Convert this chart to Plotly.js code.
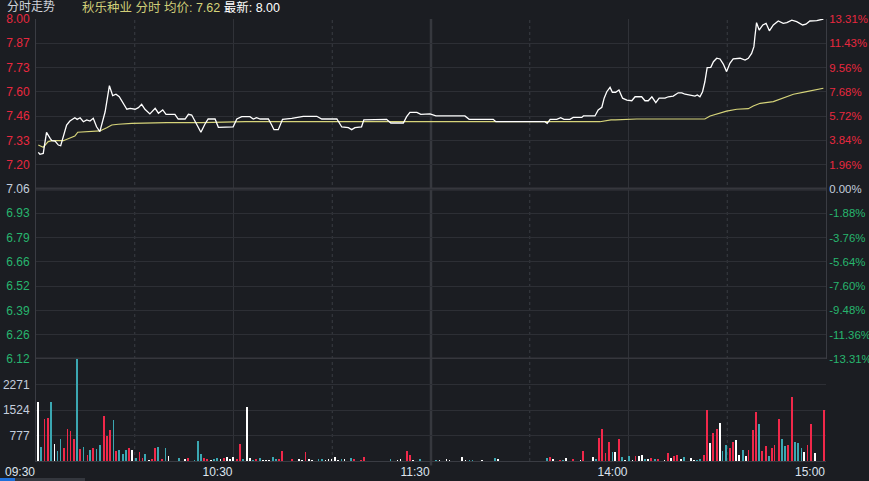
<!DOCTYPE html>
<html><head><meta charset="utf-8">
<script src="https://cdn.plot.ly/plotly-3.0.1.min.js"></script>
<style>html,body{margin:0;padding:0;background:#1b1d22;}#chart{width:869px;height:481px;}</style>
</head><body><div id="chart"></div>
<script>
// ---- data (minutes after 09:30, trading time; 11:30 and 13:00 join at 120) ----
const stockName = '秋乐种业';
const latestAvg = '7.62';
const latestPrice = '8.00';

const priceTime = [0.7,1.2,2.2,3.2,4.3,4.8,5.8,6.8,7.5,8.3,
  9.3,10.3,11.8,12.5,13.4,14.4,15.4,16.4,17.4,18.4,
  19.4,21.0,21.7,22.3,23.3,24.3,25.3,26.5,27.6,28.6,
  30.1,31.1,32.1,33.1,34.6,36.2,37.2,38.5,39.5,42.2,
  43.2,45.3,46.3,47.3,48.8,50.1,51.3,52.3,54.4,55.4,
  59.9,61.0,62.5,65.0,66.0,67.0,68.1,70.6,71.6,72.3,
  73.6,74.3,74.9,77.7,81.2,85.3,86.8,91.4,92.9,94.9,
  95.9,96.9,98.9,99.6,106.5,107.8,111.6,112.6,113.6,115.7,
  116.9,119.7,121.5,130.3,131.6,138.9,139.7,154.6,155.3,156.2,
  158.2,159.4,160.4,162.2,163.2,165.8,166.3,169.8,170.8,171.9,
  172.6,173.4,174.4,175.1,176.1,177.1,178.2,179.5,181.0,182.0,
  184.0,185.0,186.0,187.1,188.3,189.3,191.1,192.1,193.6,195.1,
  196.2,197.2,199.2,200.2,200.9,201.7,202.5,203.2,203.9,205.0,
  205.8,206.8,207.8,208.8,209.8,210.8,211.8,213.9,215.4,216.4,
  217.4,218.1,218.4,218.9,219.7,220.8,221.8,222.8,224.0,225.5,
  227.0,228.1,229.6,231.1,232.9,233.9,235.1,237.2,239.2];
const priceValue = [7.263,7.252,7.257,7.373,7.340,7.327,7.325,7.303,7.299,7.349,
  7.414,7.436,7.454,7.445,7.454,7.432,7.442,7.436,7.451,7.404,
  7.377,7.487,7.562,7.631,7.576,7.584,7.570,7.534,7.501,7.506,
  7.501,7.510,7.528,7.501,7.475,7.506,7.479,7.497,7.473,7.473,
  7.447,7.447,7.473,7.469,7.414,7.374,7.418,7.447,7.447,7.401,
  7.404,7.447,7.460,7.460,7.447,7.454,7.447,7.447,7.414,7.388,
  7.388,7.414,7.445,7.451,7.462,7.462,7.447,7.447,7.403,7.399,
  7.388,7.399,7.404,7.442,7.445,7.425,7.425,7.460,7.484,7.484,
  7.473,7.475,7.464,7.464,7.445,7.445,7.432,7.432,7.423,7.445,
  7.445,7.454,7.445,7.445,7.456,7.456,7.464,7.464,7.497,7.512,
  7.562,7.598,7.622,7.595,7.595,7.607,7.562,7.552,7.548,7.570,
  7.570,7.548,7.548,7.570,7.537,7.562,7.562,7.570,7.574,7.592,
  7.592,7.584,7.580,7.574,7.580,7.570,7.598,7.653,7.731,7.733,
  7.764,7.783,7.779,7.751,7.709,7.755,7.779,7.783,7.773,7.783,
  7.810,7.847,7.902,7.980,7.939,7.967,7.976,7.935,7.967,7.989,
  7.976,7.980,7.994,7.985,7.967,7.971,7.989,7.991,8.000];

const avgTime = [0.7,2.2,3.7,4.8,8.3,10.3,11.8,12.7,14.9,17.9,
  19.4,21.5,23.0,25.0,28.6,29.1,39.7,50.3,63.5,122.7,
  171.3,174.7,176.0,182.5,203.2,204.8,207.8,209.8,212.9,216.4,
  217.9,220.0,224.0,226.0,228.1,230.1,234.1,236.1,239.2];
const avgValue = [7.303,7.291,7.322,7.327,7.327,7.340,7.353,7.374,7.377,7.381,
  7.381,7.399,7.414,7.418,7.419,7.423,7.427,7.427,7.432,7.432,
  7.432,7.442,7.442,7.447,7.447,7.464,7.482,7.491,7.501,7.504,
  7.519,7.534,7.543,7.556,7.567,7.584,7.598,7.607,7.617];

const volTime = [0.7,1.6,2.6,3.6,4.6,5.6,6.5,7.4,8.5,9.6,
  10.5,11.5,12.5,13.4,14.4,15.6,16.5,17.4,18.4,19.5,
  20.6,21.5,22.4,23.5,24.4,25.3,26.4,27.4,28.3,29.2,
  30.4,31.4,32.3,33.2,34.4,35.3,36.2,37.1,38.3,39.3,
  40.2,43.4,45.3,46.2,48.1,49.3,50.2,51.1,52.0,53.2,
  54.1,55.0,56.0,57.1,58.1,59.0,59.9,61.1,62.0,62.9,
  64.1,65.1,66.0,66.9,68.1,69.0,69.9,70.8,72.0,72.9,
  73.9,74.8,77.8,79.9,80.8,81.9,83.0,83.9,85.8,86.9,
  87.9,88.9,89.8,90.9,91.8,92.8,93.7,95.7,96.6,98.8,
  99.7,107.7,109.8,110.7,112.7,113.6,114.5,116.7,121.6,122.6,
  124.7,125.6,129.5,130.5,131.7,132.6,135.5,139.4,140.3,155.2,
  156.1,157.0,159.2,160.1,161.0,163.1,165.4,166.2,169.2,170.2,
  171.0,172.0,173.0,174.0,175.1,175.9,177.1,178.1,179.0,180.1,
  181.2,182.1,183.1,184.1,185.1,186.0,186.9,188.1,189.0,190.9,
  192.0,193.0,193.9,194.8,195.9,196.8,198.9,199.8,200.8,201.8,
  202.9,203.8,204.7,205.6,206.8,207.7,208.6,209.6,210.8,211.7,
  212.6,213.5,214.7,215.6,216.5,217.8,218.7,219.6,220.5,221.7,
  222.6,223.5,224.4,225.7,226.6,227.5,228.4,229.6,230.5,231.4,
  232.6,233.4,234.4,235.4,236.6,239.3];
const volValue = [1749,427,1266,1296,1770,525,318,673,397,969,
  911,673,3013,377,427,219,347,407,386,495,
  1345,762,940,1236,318,347,248,347,407,347,
  119,288,119,228,70,89,416,436,89,407,
  169,109,89,119,70,614,228,119,79,70,
  89,119,89,119,138,79,138,89,525,79,
  1622,119,70,79,119,70,70,70,138,79,
  89,318,89,89,70,288,79,59,79,79,
  70,79,79,138,70,79,79,109,79,59,
  138,79,70,79,318,199,70,79,49,49,
  79,59,138,59,59,59,59,119,89,119,
  149,89,59,59,119,89,70,318,138,79,
  703,969,278,584,288,288,673,138,49,169,
  70,169,169,199,89,89,109,89,79,59,
  258,109,169,199,79,138,109,59,59,79,
  199,1532,545,841,960,1147,318,486,407,584,
  644,199,347,169,347,940,1473,1117,318,465,
  169,407,495,1266,673,465,495,1909,584,554,
  407,288,495,1117,258,1532];
// r = up (red), g = down (teal), w = unchanged (white)
const volDir = ['w','g','r','r','g','w','g','g','r','r',
  'r','r','g','r','g','r','g','r','g','g',
  'r','r','r','g','r','g','g','g','r','w',
  'g','r','r','g','w','r','r','g','r','g',
  'w','g','w','r','g','g','g','r','r','w',
  'g','g','w','r','w','w','w','r','r','g',
  'w','w','g','r','g','w','w','w','g','g',
  'r','r','r','w','w','r','w','w','g','g',
  'w','w','w','w','w','g','w','g','r','r',
  'r','g','w','w','r','r','w','g','g','w',
  'w','w','w','w','g','g','w','g','w','g',
  'r','w','r','g','w','r','w','r','w','g',
  'r','r','r','r','g','w','r','g','w','g',
  'w','r','w','w','g','w','r','g','r','w',
  'r','w','r','r','w','g','w','w','g','g',
  'r','r','w','r','r','w','g','g','r','r',
  'w','w','g','w','r','r','r','g','r','r',
  'g','r','r','r','g','g','r','r','g','g',
  'g','w','r','r','w','r'];

const priceTickLabels = ['8.00','7.87','7.73','7.60','7.46','7.33','7.20','7.06','6.93','6.79','6.66','6.52','6.39','6.26','6.12'];
const pctTickLabels = ['13.31%','11.43%','9.56%','7.68%','5.72%','3.84%','1.96%','0.00%','-1.88%','-3.76%','-5.64%','-7.60%','-9.48%','-11.36%','-13.31%'];
const volTickValues = [777,1524,2271];
const timeTickValues = [0,60,120,180,240];
const timeTickLabels = ['09:30','10:30','11:30','14:00','15:00'];
const prevClose = 7.06;

// ---- styling ----
const BG = '#1b1d22';
const GRID = '#2d2f35';
const RED = '#e8283f';
const GREEN = '#27b56e';
const NEUTRAL = '#c4cede';
const dirColor = {r:'#f0284a', g:'#3ba7b2', w:'#ffffff'};
const FONT = 'Liberation Sans, Arial, Noto Sans CJK SC, sans-serif';
const PW = 790, PH = 442;

const pMax = 8.00, pMin = 6.12;
const nLevels = priceTickLabels.length;
const priceTickVals = priceTickLabels.map((_, i) => pMax - i * (pMax - pMin) / (nLevels - 1));
const mid = (nLevels - 1) / 2;
function colored(labels) {
  return labels.map((t, i) => {
    const c = i < mid ? RED : (i > mid ? GREEN : NEUTRAL);
    return '<span style="color:' + c + '">' + t + '</span>';
  });
}

const split = 102 / PH;

const traces = [
  {x: volTime, y: volValue, type: 'bar', xaxis: 'x', yaxis: 'y3', width: 0.5,
   marker: {color: volDir.map(d => dirColor[d]), line: {width: 0}}, hoverinfo: 'skip'},
  {x: avgTime, y: avgValue, type: 'scatter', mode: 'lines', xaxis: 'x', yaxis: 'y',
   line: {color: '#d6d47a', width: 1.2}, hoverinfo: 'skip'},
  {x: priceTime, y: priceValue, type: 'scatter', mode: 'lines', xaxis: 'x', yaxis: 'y',
   line: {color: '#ffffff', width: 1.3}, hoverinfo: 'skip'},
  {x: priceTime, y: priceValue, type: 'scatter', mode: 'lines', xaxis: 'x', yaxis: 'y2',
   line: {color: 'rgba(0,0,0,0)', width: 0}, hoverinfo: 'skip', showlegend: false}
];

const shapes = [];
function vline(x, opts) {
  shapes.push(Object.assign({type: 'line', xref: 'x', yref: 'paper', x0: x, x1: x, y0: 0, y1: 1,
    layer: 'below', line: {color: '#303238', width: 1}}, opts || {}));
}
[60, 180].forEach(x => vline(x));
vline(120, {line: {color: '#36383e', width: 2.5}, y0: -0.01});
[30, 90, 150, 210].forEach(x => vline(x, {line: {color: '#3a3c43', width: 1, dash: 'dot'}}));
[prevClose, pMin].forEach(v => shapes.push({type: 'line', xref: 'paper', yref: 'y', x0: 0, x1: 1, y0: v, y1: v,
  layer: 'below', line: {color: '#36373d', width: 3}}));
// bottom scroll indicator
shapes.push({type: 'rect', xref: 'paper', yref: 'paper', x0: -36/PW, x1: -21/PW, y0: -20/PH, y1: -17/PH,
  line: {width: 0}, fillcolor: '#1e6fd9'});
shapes.push({type: 'rect', xref: 'paper', yref: 'paper', x0: -21/PW, x1: 49/PW, y0: -20/PH, y1: -17/PH,
  line: {width: 0}, fillcolor: '#34373e'});

const tickFont = {family: FONT, size: 12};

const layout = {
  width: 869, height: 481,
  paper_bgcolor: BG, plot_bgcolor: BG,
  margin: {l: 36, r: 43, t: 19, b: 20, pad: 0},
  showlegend: false,
  bargap: 0,
  xaxis: {range: [0, 240], anchor: 'y3', tickmode: 'array', tickvals: timeTickValues, ticktext: timeTickLabels,
    showgrid: false, zeroline: false, showline: true, linecolor: '#3a3c43', linewidth: 1,
    ticks: '', ticklabelshift: -16, tickfont: Object.assign({color: '#dde4ee'}, tickFont), fixedrange: true},
  yaxis: {domain: [split, 1], range: [pMin, pMax], tickmode: 'array', tickvals: priceTickVals,
    ticktext: colored(priceTickLabels), showgrid: true, gridcolor: GRID, gridwidth: 1, zeroline: false,
    showline: true, linecolor: '#3a3c43', ticks: '', ticklabelstandoff: 3, tickfont: tickFont},
  yaxis2: {overlaying: 'y', side: 'right', range: [pMin, pMax], tickmode: 'array', tickvals: priceTickVals,
    ticktext: colored(pctTickLabels), showgrid: false, zeroline: false, showline: true, linecolor: '#3a3c43',
    ticks: '', ticklabelstandoff: 0, tickfont: {family: FONT, size: 11.4}},
  yaxis3: {domain: [0, split], range: [30, 3018], tickmode: 'array', tickvals: volTickValues,
    ticktext: volTickValues.map(String), showgrid: true, gridcolor: GRID, zeroline: false,
    showline: true, linecolor: '#3a3c43', ticks: '', ticklabelstandoff: 3,
    tickfont: Object.assign({color: NEUTRAL}, tickFont)},
  shapes: shapes,
  annotations: [{
    xref: 'paper', yref: 'paper', x: (5 - 36) / PW, y: 1 + 12/PH, xanchor: 'left', yanchor: 'middle', showarrow: false,
    font: {family: FONT, size: 12, color: '#d0d4dc'},
    text: '分时走势'
  }, {
    xref: 'paper', yref: 'paper', x: (80 - 36) / PW, y: 1 + 12/PH, xanchor: 'left', yanchor: 'middle', showarrow: false,
    font: {family: FONT, size: 12.5, color: '#d8dce4'},
    text: '<span style="color:#cfcd78">' + stockName + ' 分时 均价:</span><span style="color:#d6d47a"> ' +
      latestAvg + '</span> <span style="color:#ffffff">最新: ' + latestPrice + '</span>'
  }]
};

Plotly.newPlot('chart', traces, layout, {displayModeBar: false, staticPlot: true});
</script>
</body></html>
